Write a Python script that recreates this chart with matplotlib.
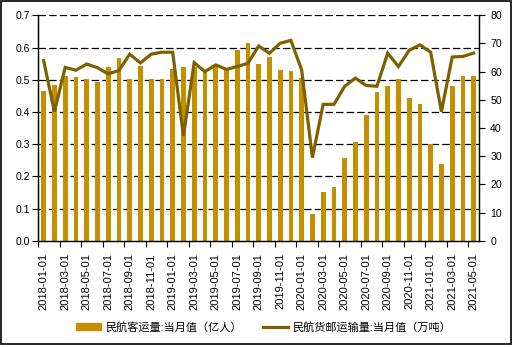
import numpy as np
import pandas as pd
from matplotlib import pyplot as plt
from matplotlib.patches import Rectangle
from matplotlib.lines import Line2D
from matplotlib.ticker import FixedLocator, MultipleLocator

plt.rcParams['font.family'] = ['Liberation Sans', 'Noto Sans CJK SC', 'DejaVu Sans']

# monthly series, 2018-01 .. 2021-05
months = pd.date_range('2018-01-01', '2021-05-01', freq='MS').strftime('%Y-%m-%d').tolist()

# passenger volume, 100 million people
passengers = [0.465, 0.483, 0.513, 0.508, 0.502, 0.494, 0.539, 0.567, 0.502, 0.542,
              0.502, 0.502, 0.533, 0.539, 0.539, 0.525, 0.539, 0.530, 0.592, 0.614,
              0.549, 0.570, 0.530, 0.527, 0.505, 0.083, 0.151, 0.167, 0.258, 0.306,
              0.390, 0.462, 0.480, 0.502, 0.443, 0.424, 0.300, 0.238, 0.480, 0.511,
              0.511]

# cargo and mail volume, 10k tonnes
cargo = [63.9, 45.8, 61.5, 60.5, 62.7, 61.4, 59.2, 60.4, 66.2, 63.1,
         66.2, 66.9, 66.9, 37.2, 63.2, 60.0, 62.4, 60.8, 61.8, 63.0,
         69.1, 66.5, 70.1, 71.1, 60.6, 29.5, 48.4, 48.4, 54.8, 57.7,
         55.1, 54.8, 66.6, 61.8, 67.6, 69.5, 66.9, 45.8, 65.2, 65.4,
         66.6]

bar_label = '民航客运量:当月值（亿人）'
line_label = '民航货邮运输量:当月值（万吨）'

bar_color = '#C49000'
line_color = '#7F6000'

fig = plt.figure(figsize=(5.14, 3.47), dpi=100)
ax = fig.add_axes([0.0745, 0.3063, 0.8575, 0.6496])
ax2 = ax.twinx()

x = np.arange(len(months))
ax.bar(x, passengers, width=0.44, color=bar_color, zorder=2)
ax2.plot(x, cargo, color=line_color, lw=2.3, solid_joinstyle='miter', zorder=3)

ax.set_xlim(-0.5, len(months) - 0.5)
ax.set_ylim(0, 0.7)
ax2.set_ylim(0, 80)

# dashed horizontal gridlines at each left-axis tick
for v in np.arange(0.1, 0.71, 0.1):
    ax.axhline(v, color='black', lw=0.9, linestyle=(0, (6, 2.5)), zorder=1)

ax.yaxis.set_major_locator(MultipleLocator(0.1))
ax.yaxis.set_major_formatter(plt.FormatStrFormatter('%.1f'))
ax2.yaxis.set_major_locator(MultipleLocator(10))

ax.xaxis.set_major_locator(FixedLocator(x[::2]))
ax.set_xticklabels(months[::2], rotation=90, fontsize=8)
ax.xaxis.set_minor_locator(FixedLocator(np.arange(-0.5, len(months), 2)))
ax.tick_params(axis='x', which='major', length=0, pad=9)
ax.tick_params(axis='x', which='minor', length=4, width=0.8, direction='out')
ax.tick_params(axis='y', length=4, width=0.8, labelsize=7.6, pad=2)
ax2.tick_params(axis='y', length=4, width=0.8, labelsize=7.6, pad=4)

for a in (ax, ax2):
    a.spines['top'].set_visible(False)
    for s in ('left', 'right', 'bottom'):
        a.spines[s].set_linewidth(0.9)

ax.set_zorder(ax2.get_zorder() - 1)
ax2.patch.set_visible(False)
ax.patch.set_visible(True)

handles = [Rectangle((0, 0), 1, 1, color=bar_color),
           Line2D([], [], color=line_color, lw=2.3)]
fig.legend(handles, [bar_label, line_label], loc='center', ncol=2,
           bbox_to_anchor=(0.512, 0.057), frameon=False, fontsize=8,
           handlelength=2.3, handleheight=0.6, handletextpad=0.35,
           columnspacing=1.9)

# outer frame
fig.add_artist(Rectangle((1 / 514, 3 / 347), 510 / 514, 343 / 347,
                         transform=fig.transFigure, fill=False,
                         edgecolor='black', lw=1.2))

fig.savefig('out.png', dpi=100)
